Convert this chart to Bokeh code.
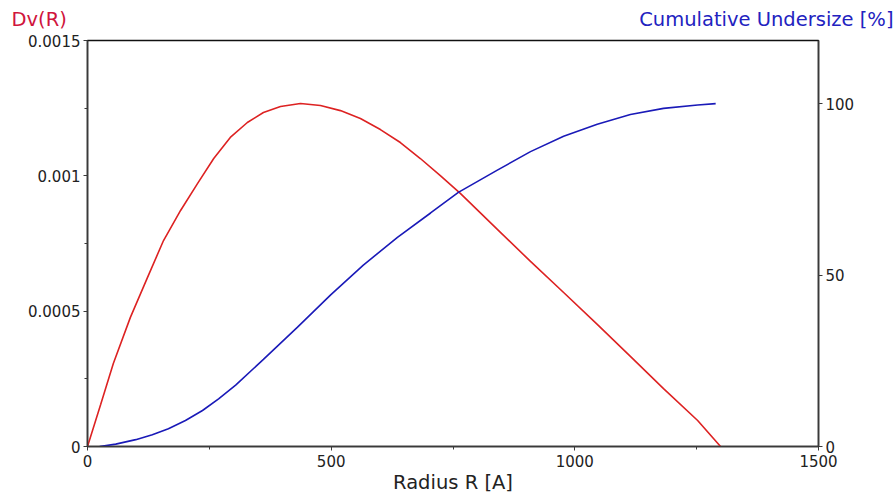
from bokeh.plotting import figure
from bokeh.models import Range1d, LinearAxis, FixedTicker, CustomJSTickFormatter
from bokeh.layouts import column
from bokeh.core.properties import value
from bokeh.embed import file_html
from bokeh.resources import INLINE

# Differential volume distribution Dv(R)
dv_radius = [0, 27, 53, 88, 123, 156, 191, 226, 259, 293, 328, 361, 396, 437,
             478, 519, 560, 601, 642, 683, 724, 765, 841, 909, 977, 1046, 1114,
             1182, 1252, 1299]
dv_values = [0, 0.000155, 0.000307, 0.000477, 0.000624, 0.000761, 0.000872,
             0.000972, 0.001064, 0.001142, 0.001197, 0.001234, 0.001256, 0.001267,
             0.001260, 0.001241, 0.001212, 0.001171, 0.001123, 0.001064, 0.001001,
             0.000935, 0.000802, 0.000684, 0.000569, 0.000451, 0.000333, 0.000214,
             0.000096, 0.0]

# Cumulative undersize [%]
cu_radius = [25, 58, 99, 133, 166, 201, 236, 269, 304, 361, 431, 499, 566, 636,
             704, 761, 841, 909, 977, 1046, 1114, 1182, 1252, 1289]
cu_values = [0.0, 0.7, 2.0, 3.45, 5.2, 7.6, 10.5, 13.9, 17.9, 25.4, 34.8, 44.2,
             52.9, 61.0, 68.1, 74.1, 80.6, 86.0, 90.5, 94.0, 96.8, 98.6, 99.6, 100.0]

x_ticks = [0, 500, 1000, 1500]
x_minor = [250, 750, 1250]
left_ticks = [0, 0.0005, 0.001, 0.0015]
left_minor = [0.00025, 0.00075, 0.00125]
right_ticks = [0, 50, 100]

left_title = "Dv(R)"
right_title = "Cumulative Undersize [%]"

FONT = "DejaVu Sans"
AX_COLOR = "#3a3a3a"
W = 894
HEAD_H = 34

# ---- header strip holding the two axis titles ----
head = figure(width=W, height=HEAD_H, output_backend="svg", toolbar_location=None,
              x_range=Range1d(0, W), y_range=Range1d(0, HEAD_H),
              x_axis_type=None, y_axis_type=None,
              min_border_left=0, min_border_right=0, min_border_top=0,
              min_border_bottom=0)
if "frame_align" in head.properties():
    head.frame_align = False
head.xgrid.visible = False
head.ygrid.visible = False
head.outline_line_color = None
head.background_fill_color = "white"
head.border_fill_color = "white"
head.text(x=[11], y=[HEAD_H - 19], text=[left_title], text_font=value(FONT),
          text_font_size="19.5px", text_color="#d0143c", text_baseline="middle",
          text_align="left")
head.text(x=[W - 1], y=[HEAD_H - 19], text=[right_title], text_font=value(FONT),
          text_font_size="19.5px", text_color="#2222c0", text_baseline="middle",
          text_align="right")

# ---- main chart ----
p = figure(width=W, height=497 - HEAD_H, output_backend="svg", toolbar_location=None,
           x_range=Range1d(0, 1500), y_range=Range1d(0, 0.0015),
           min_border_left=87, min_border_right=76, min_border_top=40 - HEAD_H,
           min_border_bottom=51)
if "frame_align" in p.properties():
    p.frame_align = False
p.extra_y_ranges = {"right": Range1d(0, 118.4)}
p.xgrid.visible = False
p.ygrid.visible = False
p.outline_line_color = "#111111"
p.outline_line_width = 1.5
p.background_fill_color = "white"
p.border_fill_color = "white"

def style(ax):
    ax.axis_line_color = AX_COLOR
    ax.axis_line_width = 1.5
    ax.major_tick_line_color = AX_COLOR
    ax.minor_tick_line_color = AX_COLOR
    ax.major_tick_in = 0
    ax.major_tick_out = 4
    ax.minor_tick_in = 0
    ax.minor_tick_out = 3
    ax.major_label_text_font = FONT
    ax.major_label_text_font_size = "15px"
    ax.major_label_text_color = "#222222"
    ax.major_label_standoff = 4

xa = p.xaxis[0]
style(xa)
xa.ticker = FixedTicker(ticks=x_ticks, minor_ticks=x_minor)
xa.axis_label = "Radius R [A]"
xa.axis_label_text_font = FONT
xa.axis_label_text_font_size = "19.5px"
xa.axis_label_text_font_style = "normal"
xa.axis_label_text_color = "#222222"
xa.axis_label_standoff = 1

ya = p.yaxis[0]
style(ya)
ya.ticker = FixedTicker(ticks=left_ticks, minor_ticks=left_minor)
ya.formatter = CustomJSTickFormatter(code="return parseFloat(tick.toPrecision(6)).toString();")
ya.major_label_standoff = 3

ra = LinearAxis(y_range_name="right")
style(ra)
ra.ticker = FixedTicker(ticks=right_ticks)
ra.major_label_standoff = 3
p.add_layout(ra, "right")

p.line(dv_radius, dv_values, line_color="#dd2222", line_width=1.6)
p.line(cu_radius, cu_values, line_color="#1a1ab8", line_width=1.6, y_range_name="right")

layout = column(head, p, spacing=0)
open("out.html", "w").write(file_html(layout, INLINE))
